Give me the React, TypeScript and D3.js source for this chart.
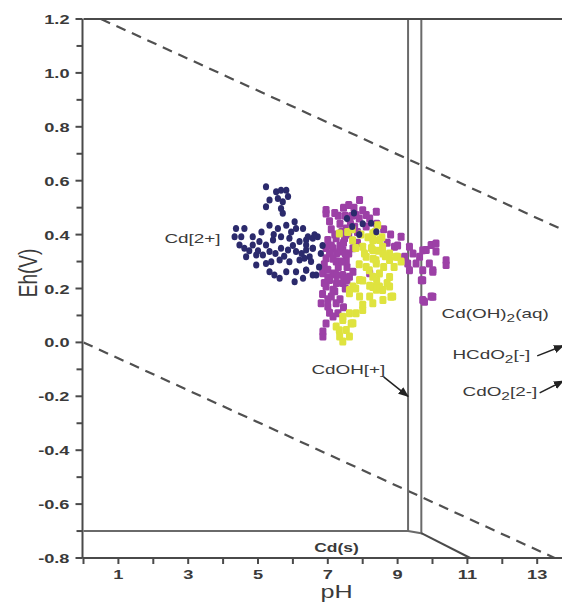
import React from "react";
import * as d3 from "d3";

type P = [number, number];

// pH, Eh(V)
const navyPts: P[] = [
  [5.23,0.578],[5.52,0.559],[5.66,0.565],[5.81,0.565],[5.33,0.528],[5.57,0.534],[5.71,0.522],[5.86,0.541],[5.23,0.503],[5.66,0.497],[5.71,0.479],
  [4.37,0.423],[4.61,0.423],[4.33,0.392],[4.52,0.392],[4.85,0.392],[5.33,0.435],[5.57,0.423],[5.81,0.435],[6.05,0.448],[6.09,0.423],
  [4.47,0.361],[4.61,0.349],[4.85,0.361],[5.04,0.374],[5.23,0.361],[5.43,0.38],[5.66,0.392],[5.9,0.386],[6.19,0.374],[6.38,0.38],[6.57,0.386],[6.71,0.392],
  [4.66,0.318],[4.95,0.324],[5.14,0.324],[5.33,0.337],[5.66,0.349],[5.86,0.343],[6.09,0.337],[6.38,0.343],[6.57,0.349],
  [4.95,0.287],[5.23,0.293],[5.38,0.299],[5.62,0.306],[5.9,0.299],[6.19,0.306],[6.48,0.318],
  [5.33,0.262],[5.47,0.25],[5.62,0.238],[5.81,0.262],[6.09,0.262],[6.38,0.268],[6.05,0.225],[6.29,0.238],[6.67,0.25],
  [6.29,0.423],[6.43,0.392],[6.62,0.399],[6.38,0.361],[6.57,0.349],[6.33,0.312],[6.52,0.3],[6.38,0.269],[6.57,0.25],
  [7.55,0.46],[7.7,0.43],[7.9,0.4],[8.0,0.44],[7.75,0.48],[8.24,0.442],[8.39,0.411],
  [5.0,0.34],[5.5,0.33],[5.75,0.32],[6.0,0.36],[6.25,0.33],[5.95,0.41],[5.45,0.4],[5.1,0.41],[4.75,0.34],[6.8,0.33],[6.85,0.36],[6.75,0.28],
];

const purplePts: P[] = [
  [7.91,0.528],[6.95,0.491],[7.62,0.46],[7.81,0.473],[8.1,0.473],[7.53,0.423],[7.77,0.429],[7.24,0.386],[7.48,0.386],[7.15,0.349],[7.43,0.343],[7.72,0.349],[6.95,0.312],[7.24,0.3],[7.53,0.306],[6.86,0.262],[7.15,0.256],[7.43,0.25],[7.72,0.262],[8.39,0.485],[7.34,0.337],
  [6.86,0.257],[7.05,0.232],[6.95,0.207],[7.15,0.195],[6.81,0.145],[7.0,0.133],[7.24,0.145],[7.29,0.108],[7.15,0.096],[6.86,0.04],[6.86,0.022],[7.62,0.244],[7.43,0.22],[8.2,0.257],
  [9.1,0.392],[8.91,0.355],[9.34,0.355],[9.44,0.33],[9.63,0.318],[9.82,0.343],[9.96,0.361],[10.1,0.337],[9.91,0.293],[9.72,0.268],[9.34,0.268],[10.39,0.287],[9.68,0.231],[10.01,0.268],[9.72,0.157],[9.96,0.17],[9.2,0.318],[9.53,0.293],[9.29,0.293],
  [10.1,0.367],[9.72,0.342],[10.39,0.305],[10.01,0.262],[9.72,0.231],[10.01,0.169],[9.77,0.151],[6.95,0.478],
  [7.05,0.45],[7.3,0.47],[7.45,0.5],[7.6,0.51],[7.75,0.5],[8.0,0.49],[8.2,0.46],[7.1,0.42],[7.35,0.44],[7.65,0.44],[7.9,0.46],[8.1,0.43],[7.0,0.38],[7.2,0.4],[7.6,0.4],[7.85,0.41],[7.05,0.33],[7.35,0.36],[7.6,0.33],[7.85,0.37],[6.9,0.29],[7.3,0.28],[7.55,0.28],[7.0,0.24],[7.25,0.22],[7.5,0.2],[6.85,0.18],[7.1,0.17],[7.35,0.16],[7.45,0.13],[8.4,0.44],[8.6,0.42],[8.8,0.4],[9.0,0.36],[8.7,0.37],
  [7.2,0.48],[7.5,0.47],[7.7,0.47],[7.4,0.41],[7.1,0.36],[7.45,0.37],[7.25,0.33],[7.5,0.33],[6.95,0.35],[7.15,0.31],[7.4,0.3],[7.0,0.27],[7.25,0.25],[7.55,0.23],[6.9,0.22],[7.2,0.19],[7.05,0.11],[6.95,0.07],[7.0,0.16],
];

const yellowPts: P[] = [
  [7.91,0.232],[7.72,0.207],[7.62,0.182],[7.91,0.17],[8.2,0.17],[8.39,0.195],[8.29,0.145],[7.62,0.108],[7.43,0.083],[7.72,0.071],[7.24,0.059],[7.53,0.046],[7.34,0.022],[7.62,0.022],[7.43,0.003],[7.81,0.108],[8.0,0.12],
  [8.29,0.405],[8.48,0.38],[8.29,0.343],[8.58,0.33],[8.39,0.293],[8.77,0.306],[8.29,0.244],[8.48,0.207],[8.77,0.207],[8.86,0.17],[8.58,0.157],[8.43,0.435],[9.0,0.318],
  [7.71,0.379],[8.0,0.355],[8.29,0.379],[8.57,0.355],[8.77,0.33],[8.1,0.318],[8.38,0.305],[8.96,0.318],[8.19,0.268],[8.48,0.256],[8.77,0.243],[8.29,0.206],[8.57,0.194],[8.81,0.169],[7.62,0.194],[7.43,0.095],[7.33,0.045],[7.67,0.07],[7.33,0.404],[7.57,0.41],
  [7.7,0.42],[7.95,0.4],[8.15,0.39],[8.35,0.41],[8.55,0.39],[7.8,0.35],[8.05,0.33],[8.25,0.35],[8.45,0.34],[8.65,0.32],[7.9,0.29],[8.1,0.28],[8.3,0.31],[8.6,0.28],[8.9,0.28],[9.1,0.3],[8.0,0.23],[8.2,0.21],[8.4,0.23],[8.7,0.22],[7.8,0.2],[8.0,0.14],
];

// water stability limits (dashed)
const waterUpper: P[] = [[0.5, 1.2], [14, 0.402]];
const waterLower: P[] = [[0, 0], [13.5, -0.8]];

// Cd field boundaries
const boundaryLeft: P[] = [[0, -0.7], [9.3, -0.7], [9.3, 1.2]];
const boundaryRight: P[] = [[9.3, -0.7], [9.68, -0.708], [9.68, 1.2]];
const boundaryLow: P[] = [[9.68, -0.708], [11.08, -0.8]];

const yMajor = [-0.8, -0.6, -0.4, -0.2, 0.0, 0.2, 0.4, 0.6, 0.8, 1.0, 1.2];
const yMinor = [-0.7, -0.5, -0.3, -0.1, 0.1, 0.3, 0.5, 0.7, 0.9, 1.1];
const xLabeled = [1, 3, 5, 7, 9, 11, 13];
const xAllTicks = [0, 1, 2, 3, 4, 5, 6, 7, 8, 9, 10, 11, 12, 13, 14];

const W = 562, H = 603;
const SX = 1.4; // horizontal stretch of the original scan's text

const x = d3.scaleLinear().domain([0, 14]).range([83.5, 572.1]);
const y = d3.scaleLinear().domain([-0.8, 1.2]).range([558, 19]);

const line = d3.line<P>().x(d => x(d[0])).y(d => y(d[1]));

const TXT = "#3a3a3a";
const LINE = "#4a4a4a";

function SText(props: { x: number; y: number; anchor?: string; size: number; weight?: string | number; rotate?: boolean; children: React.ReactNode }) {
  const { x: tx, y: ty, anchor = "start", size, weight = "normal", rotate = false, children } = props;
  return (
    <text
      transform={`translate(${tx},${ty}) scale(${SX},1)${rotate ? " rotate(-90)" : ""}`}
      textAnchor={anchor as any}
      fontSize={size}
      fontWeight={weight as any}
      fill={TXT}
    >
      {children}
    </text>
  );
}

export default function App() {
  const fmt = (v: number) => d3.format(".1f")(v).replace("\u2212", "-");
  return (
    <svg
      width={W}
      height={H}
      style={{ position: "absolute", left: 0, top: 0, background: "#fff" }}
      fontFamily="'Liberation Sans', Arial, sans-serif"
    >
      <defs>
        <marker id="arr" viewBox="0 0 10 10" refX="9" refY="5" markerWidth="7" markerHeight="7" orient="auto-start-reverse">
          <path d="M0,1 L10,5 L0,9 z" fill="#222" />
        </marker>
        <clipPath id="plot">
          <rect x={x(0)} y={y(1.2)} width={x(14) - x(0)} height={y(-0.8) - y(1.2)} />
        </clipPath>
      </defs>

      {/* dashed water lines */}
      <g clipPath="url(#plot)" fill="none" stroke="#505050" strokeWidth={2.2} strokeDasharray="10 7">
        <path d={line(waterUpper) || ""} />
        <path d={line(waterLower) || ""} />
      </g>

      {/* boundaries */}
      <g fill="none" stroke="#6a6a6a" strokeWidth={2}>
        <path d={line(boundaryLeft) || ""} />
        <path d={line(boundaryRight) || ""} />
        <path d={line(boundaryLow) || ""} stroke={LINE} />
      </g>

      {/* scatter */}
      <g>
        {purplePts.map((d, i) => (
          <rect key={"p" + i} x={x(d[0]) - 3.5} y={y(d[1]) - 4} width={7} height={8} rx={1.5} fill="#9c40a6" />
        ))}
        {yellowPts.map((d, i) => (
          <rect key={"y" + i} x={x(d[0]) - 3.5} y={y(d[1]) - 4} width={7} height={8} rx={1.5} fill="#dfe33f" />
        ))}
        {navyPts.map((d, i) => (
          <ellipse key={"n" + i} cx={x(d[0])} cy={y(d[1])} rx={3.1} ry={3.5} fill="#2b2a6c" />
        ))}
      </g>

      {/* frame */}
      <g fill="none" stroke={LINE} strokeWidth={2}>
        <line x1={x(0)} x2={x(14)} y1={y(1.2)} y2={y(1.2)} />
        <line x1={x(0) - 1} x2={x(0) - 1} y1={y(1.2)} y2={y(-0.8)} />
        <line x1={x(0) - 1} x2={x(14)} y1={y(-0.8)} y2={y(-0.8)} />
      </g>

      {/* y ticks */}
      <g stroke={LINE} strokeWidth={2}>
        {yMajor.map(v => (
          <line key={"ym" + v} x1={x(0) - 8} x2={x(0) - 1} y1={y(v)} y2={y(v)} />
        ))}
        {yMinor.map(v => (
          <line key={"yn" + v} x1={x(0) - 7} x2={x(0) - 1} y1={y(v)} y2={y(v)} />
        ))}
      </g>
      {yMajor.map(v => (
        <SText key={"yl" + v} x={x(0) - 14} y={y(v) + 5} anchor="end" size={13} weight="bold">
          {fmt(v)}
        </SText>
      ))}

      {/* x ticks */}
      <g stroke={LINE} strokeWidth={2}>
        {xAllTicks.map(v => (
          <line key={"xt" + v} x1={x(v)} x2={x(v)} y1={y(-0.8)} y2={y(-0.8) + 6} />
        ))}
      </g>
      {xLabeled.map(v => (
        <SText key={"xl" + v} x={x(v)} y={y(-0.8) + 21} anchor="middle" size={13} weight="bold">
          {v}
        </SText>
      ))}

      {/* axis titles */}
      <SText x={x(7.25)} y={598} anchor="middle" size={18}>pH</SText>
      <SText x={37} y={273} anchor="middle" size={19} rotate>Eh(V)</SText>

      {/* species labels */}
      <SText x={x(2.32)} y={y(0.369)} size={13.5}>Cd[2+]</SText>
      <SText x={x(10.26)} y={y(0.091)} size={13.5}>
        Cd(OH)<tspan dy={4} fontSize={11}>2</tspan><tspan dy={-4}>(aq)</tspan>
      </SText>
      <SText x={x(10.57)} y={y(-0.062)} size={13.5}>
        HCdO<tspan dy={4} fontSize={11}>2</tspan><tspan dy={-4}>[-]</tspan>
      </SText>
      <SText x={x(10.86)} y={y(-0.199)} size={13.5}>
        CdO<tspan dy={4} fontSize={11}>2</tspan><tspan dy={-4}>[2-]</tspan>
      </SText>
      <SText x={x(6.53)} y={y(-0.117)} size={13.5}>CdOH[+]</SText>
      <SText x={x(7.25)} y={y(-0.778)} anchor="middle" size={12.5} weight="bold">Cd(s)</SText>

      {/* arrows */}
      <g stroke="#222" strokeWidth={1.5} fill="none">
        <line x1={x(8.6)} y1={y(-0.128)} x2={x(9.3)} y2={y(-0.2)} markerEnd="url(#arr)" />
        <line x1={x(13.0)} y1={y(-0.05)} x2={x(13.75)} y2={y(-0.012)} markerEnd="url(#arr)" />
        <line x1={x(13.07)} y1={y(-0.187)} x2={x(13.75)} y2={y(-0.143)} markerEnd="url(#arr)" />
      </g>
    </svg>
  );
}
